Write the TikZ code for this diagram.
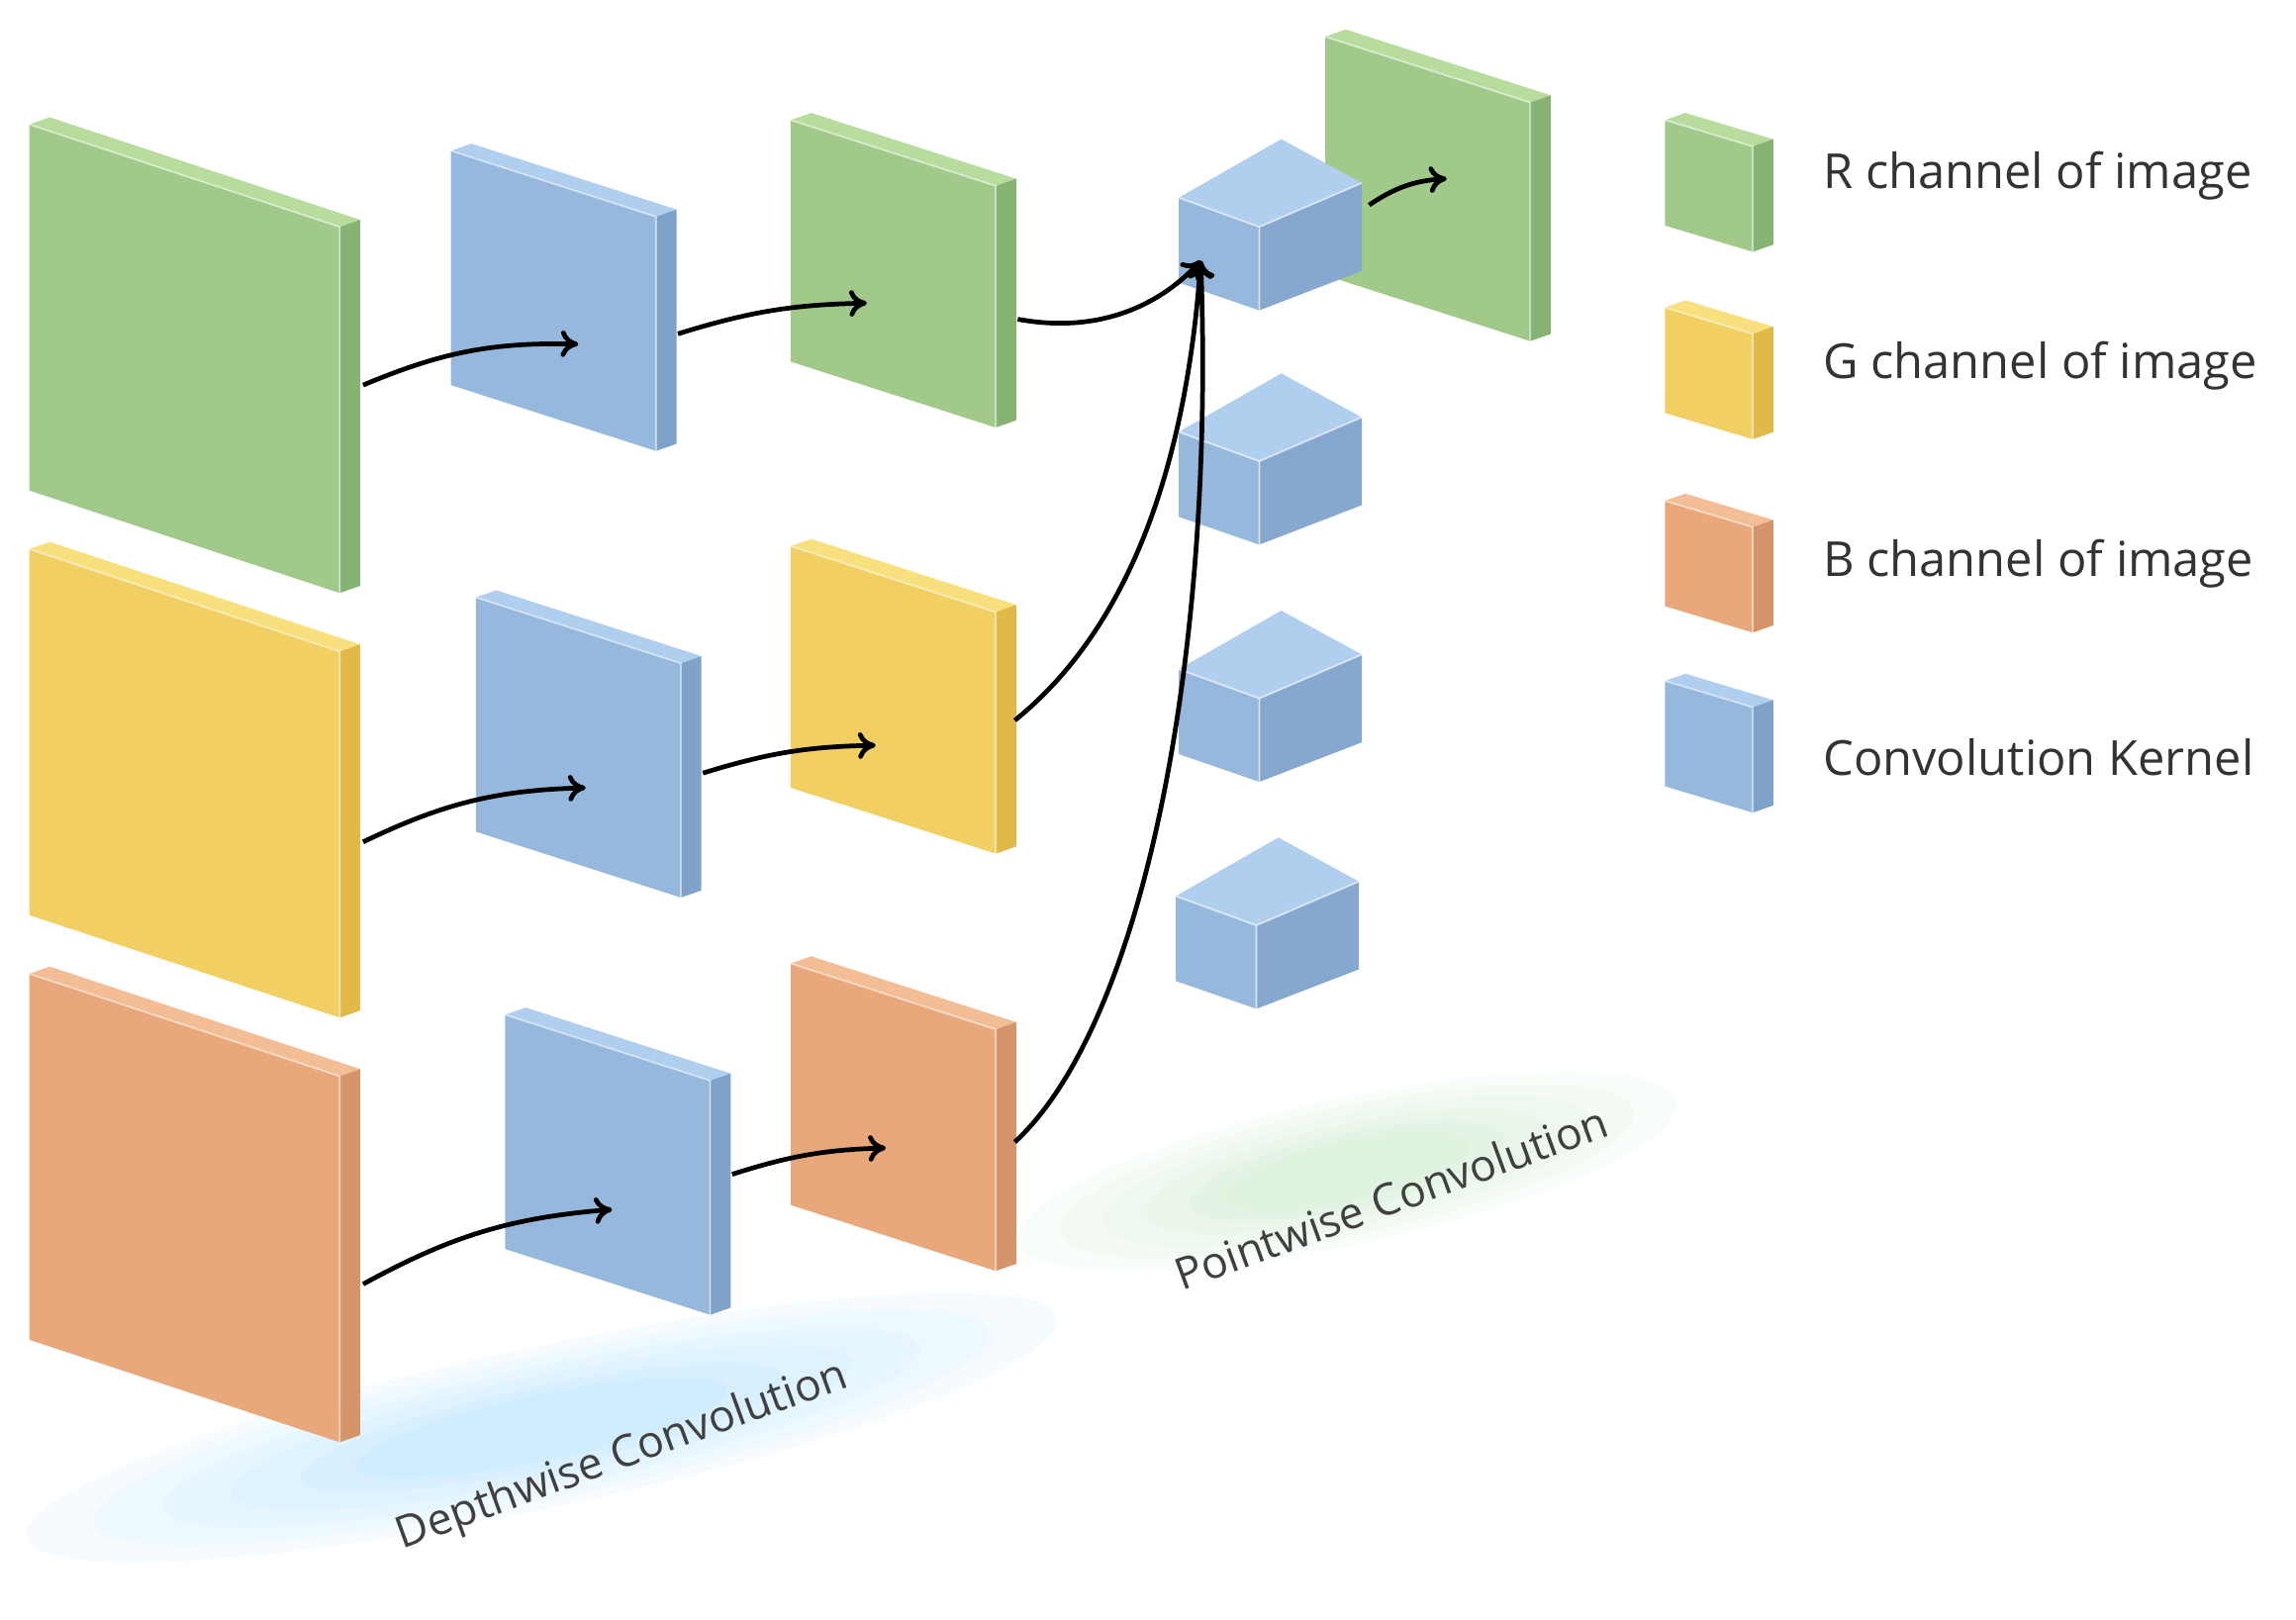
\documentclass[tikz,border=0pt]{standalone}
\usepackage{fontspec}
\setmainfont{Open Sans}
\usetikzlibrary{arrows.meta}
\definecolor{gF}{HTML}{A0C98A}\definecolor{gT}{HTML}{B8DC9E}\definecolor{gS}{HTML}{86B374}
\definecolor{yF}{HTML}{F2CF62}\definecolor{yT}{HTML}{F8E07E}\definecolor{yS}{HTML}{E0B948}
\definecolor{oF}{HTML}{E9A87C}\definecolor{oT}{HTML}{F3BD96}\definecolor{oS}{HTML}{D6946A}
\definecolor{bF}{HTML}{95B8DC}\definecolor{bT}{HTML}{B0CFEF}\definecolor{bS}{HTML}{7FA2C9}
\definecolor{bD}{HTML}{86A8CF}
\newcommand\myslab[8]{%
 \fill[#8T] (#2,#3) -- ++(#7,-#7*0.35) -- ++(#4,#5) -- ++(-#7,#7*0.35) -- cycle;
 \fill[#8S] (#2+#4,#3+#5) -- ++(#7,-#7*0.35) -- ++(0,#6) -- ++(-#7,#7*0.35) -- cycle;
 \fill[#8F] (#2,#3) -- ++(#4,#5) -- ++(0,#6) -- ++(-#4,-#5) -- cycle;
 \draw[white,opacity=.5,line width=.6pt] (#2,#3) -- ++(#4,#5) -- ++(0,#6);
}
\newcommand\mycube[2]{%
 \fill[bT] (#1,#2) -- (#1+70,#2-40) -- (#1+125,#2-10) -- (#1+55,#2+20) -- cycle;
 \fill[bD] (#1+55,#2+20) -- (#1+125,#2-10) -- (#1+125,#2+50) -- (#1+55,#2+77) -- cycle;
 \fill[bF] (#1,#2) -- (#1+55,#2+20) -- (#1+55,#2+77) -- (#1,#2+58) -- cycle;
 \draw[white,opacity=.6,line width=.6pt] (#1,#2) -- (#1+55,#2+20) -- (#1+125,#2-10) (#1+55,#2+20) -- (#1+55,#2+77);
}
\tikzset{arr/.style={-{To[length=6pt,width=9pt]},line width=1.6pt,black},
 lbl/.style={font=\fontsize{16.5}{18}\selectfont,text=black!80,anchor=west},
 shd/.style={opacity=.06}}
\begin{document}
\begin{tikzpicture}[x=0.5pt,y=-0.5pt]
\useasboundingbox (0,0) rectangle (1568,1106);
\begin{scope}[shift={(370,975)},rotate=12]
\foreach \s in {1,0.85,0.7,0.55,0.4,0.28}
 \fill[blue!40!cyan!60,shd] (0,0) ellipse ({320*\s+40} and {45*\s+10});
\end{scope}
\begin{scope}[shift={(920,800)},rotate=12]
\foreach \s in {1,0.85,0.7,0.55,0.4,0.28}
 \fill[green!60!black!40,shd] (0,0) ellipse ({200*\s+30} and {40*\s+10});
\end{scope}
\node[rotate=20,font=\fontsize{15}{17}\selectfont,text=black!75] (dw) at (425,995) {Depthwise Convolution};
\node[rotate=20,font=\fontsize{15}{17}\selectfont,text=black!75] (pw) at (950,818) {Pointwise Convolution};
\myslab{G1}{20}{85}{212}{70}{250}{14}{g}
\myslab{Y1}{20}{375}{212}{70}{250}{14}{y}
\myslab{O1}{20}{665}{212}{70}{250}{14}{o}
\myslab{K1}{308}{103}{140}{45}{160}{14}{b}
\myslab{K2}{325}{408}{140}{45}{160}{14}{b}
\myslab{K3}{345}{693}{140}{45}{160}{14}{b}
\myslab{G2}{540}{82}{140}{45}{165}{14}{g}
\myslab{Y2}{540}{373}{140}{45}{165}{14}{y}
\myslab{O2}{540}{658}{140}{45}{165}{14}{o}
\myslab{G3}{905}{25}{140}{45}{163}{14}{g}
\mycube{805}{135}
\mycube{805}{295}
\mycube{805}{457}
\mycube{803}{612}
\myslab{LG}{1137}{82}{60}{18}{72}{14}{g}
\myslab{LY}{1137}{210}{60}{18}{72}{14}{y}
\myslab{LO}{1137}{342}{60}{18}{72}{14}{o}
\myslab{LB}{1137}{465}{60}{18}{72}{14}{b}
\node[lbl] (t1) at (1238,120) {R channel of image};
\node[lbl] (t2) at (1238,250) {G channel of image};
\node[lbl] (t3) at (1238,385) {B channel of image};
\node[lbl] (t4) at (1238,517) {Convolution Kernel};
\coordinate (a1) at (248,263); \coordinate (b1) at (395,235);
\coordinate (a2) at (463,228); \coordinate (b2) at (592,207);
\coordinate (a3) at (248,575); \coordinate (b3) at (400,538);
\coordinate (a4) at (480,528); \coordinate (b4) at (598,509);
\coordinate (a5) at (248,877); \coordinate (b5) at (418,826);
\coordinate (a6) at (500,802); \coordinate (b6) at (605,784);
\coordinate (g2) at (695,218); \coordinate (y2) at (693,492); \coordinate (o2) at (693,780);
\coordinate (c1) at (820,178);
\coordinate (c2) at (935,140); \coordinate (d2) at (988,122);
\draw[arr] (a1) to[bend left=12] (b1);
\draw[arr] (a2) to[bend left=8] (b2);
\draw[arr] (a3) to[bend left=12] (b3);
\draw[arr] (a4) to[bend left=8] (b4);
\draw[arr] (a5) to[bend left=12] (b5);
\draw[arr] (a6) to[bend left=8] (b6);
\draw[arr] (g2) .. controls (760,230) and (800,200) .. (c1);
\draw[arr] (y2) .. controls (770,430) and (810,320) .. (c1);
\draw[arr] (o2) .. controls (780,700) and (830,450) .. (c1);
\draw[arr] (c2) to[bend left=15] (d2);
\end{tikzpicture}
\end{document}
